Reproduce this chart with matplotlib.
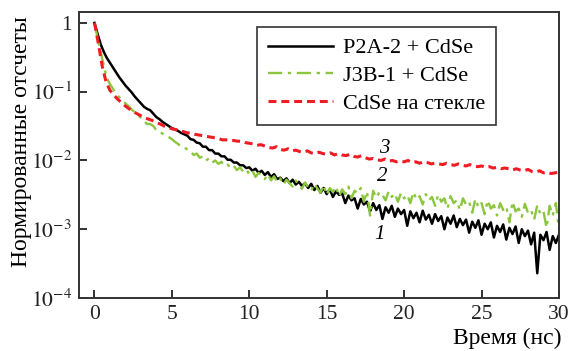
import matplotlib
matplotlib.use("Agg")
import matplotlib.pyplot as plt
import numpy as np
from matplotlib.ticker import NullLocator

# decay curves, log10 of normalised counts
# P2A-2 + CdSe, J3B-1 + CdSe sampled every 0.2 ns from 0 to 30 ns
p2a_log = [
    0.0, -0.16, -0.31, -0.42, -0.51, -0.58, -0.65, -0.72, -0.79, -0.85,
    -0.91, -0.96, -1.01, -1.07, -1.12, -1.17, -1.22, -1.25, -1.27, -1.32,
    -1.37, -1.40, -1.44, -1.47, -1.50, -1.53, -1.55, -1.57, -1.60, -1.62,
    -1.64, -1.69, -1.70, -1.74, -1.75, -1.80, -1.80, -1.85, -1.85, -1.90,
    -1.90, -1.94, -1.94, -1.99, -1.99, -2.03, -2.03, -2.07, -2.07, -2.11,
    -2.10, -2.15, -2.12, -2.18, -2.15, -2.21, -2.17, -2.24, -2.20, -2.27,
    -2.25, -2.30, -2.26, -2.33, -2.28, -2.35, -2.31, -2.37, -2.33, -2.40,
    -2.34, -2.43, -2.37, -2.47, -2.40, -2.49, -2.42, -2.53, -2.45, -2.50,
    -2.48, -2.62, -2.51, -2.58, -2.55, -2.70, -2.56, -2.64, -2.60, -2.74,
    -2.62, -2.72, -2.65, -2.85, -2.68, -2.76, -2.66, -2.82, -2.70, -2.78,
    -2.72, -2.95, -2.74, -2.84, -2.76, -2.90, -2.73, -2.86, -2.79, -2.92,
    -2.78, -2.88, -2.81, -3.00, -2.83, -2.92, -2.80, -2.97, -2.85, -2.94,
    -2.86, -3.05, -2.89, -2.98, -2.87, -3.08, -2.92, -3.00, -2.90, -3.12,
    -2.95, -3.04, -2.93, -3.15, -2.98, -3.07, -2.96, -3.20, -3.00, -3.10,
    -3.02, -3.22, -3.05, -3.64, -3.08, -3.16, -3.04, -3.30, -3.10, -3.20, -3.08,
]
j3b_log = [
    0.0, -0.22, -0.42, -0.62, -0.80, -0.89, -0.96, -1.03, -1.08, -1.13,
    -1.17, -1.21, -1.26, -1.30, -1.34, -1.38, -1.43, -1.47, -1.47, -1.50,
    -1.56, -1.58, -1.61, -1.64, -1.66, -1.69, -1.73, -1.76, -1.80, -1.81,
    -1.84, -1.86, -1.92, -1.90, -1.96, -1.94, -2.00, -1.97, -2.03, -2.00,
    -2.05, -2.02, -2.08, -2.06, -2.11, -2.08, -2.14, -2.10, -2.16, -2.13,
    -2.20, -2.15, -2.24, -2.18, -2.22, -2.27, -2.20, -2.29, -2.23, -2.31,
    -2.26, -2.35, -2.28, -2.33, -2.38, -2.29, -2.36, -2.41, -2.32, -2.39,
    -2.44, -2.34, -2.41, -2.47, -2.36, -2.50, -2.40, -2.46, -2.38, -2.52,
    -2.42, -2.49, -2.38, -2.55, -2.44, -2.48, -2.40, -2.60, -2.45, -2.80,
    -2.44, -2.54, -2.46, -2.50, -2.58, -2.45, -2.53, -2.48, -2.60, -2.47,
    -2.55, -2.50, -2.62, -2.46, -2.57, -2.52, -2.64, -2.49, -2.58, -2.53,
    -2.66, -2.50, -2.60, -2.55, -2.70, -2.52, -2.62, -2.58, -2.72, -2.55,
    -2.64, -2.60, -2.76, -2.56, -2.68, -2.62, -2.78, -2.58, -2.70, -2.65,
    -2.80, -2.62, -2.72, -2.67, -2.90, -2.60, -2.74, -2.70, -2.82, -2.63,
    -2.76, -2.72, -2.86, -2.65, -2.78, -2.74, -2.98, -2.66, -2.80, -2.62, -3.00,
]
# CdSe on glass, every 0.25 ns
glass_log = [
    0.0, -0.30, -0.63, -0.86, -0.98, -1.05, -1.11, -1.16, -1.21, -1.25,
    -1.29, -1.32, -1.35, -1.38, -1.40, -1.42, -1.45, -1.47, -1.50, -1.52,
    -1.54, -1.55, -1.57, -1.58, -1.60, -1.60, -1.62, -1.63, -1.64, -1.65,
    -1.66, -1.67, -1.68, -1.70, -1.70, -1.71, -1.71, -1.72, -1.72, -1.74,
    -1.75, -1.76, -1.78, -1.77, -1.79, -1.81, -1.82, -1.80, -1.84, -1.85,
    -1.83, -1.86, -1.85, -1.87, -1.88, -1.86, -1.89, -1.90, -1.88, -1.90,
    -1.91, -1.89, -1.92, -1.90, -1.92, -1.93, -1.91, -1.94, -1.95, -1.93,
    -1.96, -1.98, -1.97, -1.99, -2.00, -1.98, -2.01, -2.00, -2.02, -2.01,
    -2.02, -2.00, -2.03, -2.02, -2.04, -2.02, -2.03, -2.05, -2.04, -2.05,
    -2.06, -2.04, -2.06, -2.07, -2.05, -2.07, -2.08, -2.06, -2.08, -2.09,
    -2.08, -2.10, -2.09, -2.11, -2.10, -2.12, -2.11, -2.12, -2.14, -2.12,
    -2.14, -2.15, -2.13, -2.16, -2.17, -2.15, -2.18, -2.17, -2.19, -2.18, -2.17,
]
labels = ["P2A-2 + CdSe", "J3B-1 + CdSe", "CdSe на стекле"]
curve_numbers = ["1", "2", "3"]
number_pos = [(18.4, 10 ** -3.08), (18.6, 10 ** -2.23), (18.75, 10 ** -1.82)]
yticks = [1e-4, 1e-3, 1e-2, 1e-1, 1]
ytick_labels = [r"$10^{-4}$", r"$10^{-3}$", r"$10^{-2}$", r"$10^{-1}$", "1"]
xticks = [0, 5, 10, 15, 20, 25, 30]

plt.rcParams["font.family"] = ["Liberation Serif", "DejaVu Serif"]
plt.rcParams["mathtext.fontset"] = "stix"

t_fine = np.linspace(0, 30, len(p2a_log))
t_glass = np.linspace(0, 30, len(glass_log))

fig = plt.figure(figsize=(5.7, 3.51), dpi=100)
ax = fig.add_axes([0.1386, 0.151, 0.842, 0.815])

ax.plot(t_fine, 10 ** np.array(p2a_log), color="black", lw=1.8, label=labels[0])
ax.plot(t_fine, 10 ** np.array(j3b_log), color="#8cc63e", lw=1.7,
        dashes=(6, 2.4, 1.4, 2.4), label=labels[1])
ax.plot(t_glass, 10 ** np.array(glass_log), color="#ee1d24", lw=2.2,
        dashes=(2.6, 1.6), label=labels[2])

ax.set_yscale("log")
ax.set_xlim(-1, 30)
ax.set_ylim(1e-4, 10 ** 0.16)
ax.set_yticks(yticks)
ax.set_yticklabels(ytick_labels)
ax.yaxis.set_minor_locator(NullLocator())
ax.set_xticks(xticks)
ax.tick_params(direction="in", length=6, width=1.3, labelsize=15.5,
               colors="#222222", top=False, right=False)
ax.tick_params(axis="x", pad=5)
ax.tick_params(axis="y", pad=5)
for s in ax.spines.values():
    s.set_linewidth(1.4)
    s.set_color("#333333")

for num, (x, y) in zip(curve_numbers, number_pos):
    ax.text(x, y, num, fontsize=15, style="italic", ha="center", va="center")

ax.set_ylabel("Нормированные отсчеты", fontsize=17, va="center")
ax.yaxis.set_label_coords(-0.119, 0.545)
ax.set_xlabel("Время (нс)", fontsize=17, ha="right", va="top")
ax.xaxis.set_label_coords(1.006, -0.105)

leg = ax.legend(loc="upper right", bbox_to_anchor=(0.869, 0.948), fontsize=16,
                frameon=True, fancybox=False, edgecolor="black",
                handlelength=2.9, borderaxespad=0, labelspacing=0.32,
                borderpad=0.5, handletextpad=0.45)
leg.get_frame().set_linewidth(1.2)

fig.savefig("out.png", dpi=100)
